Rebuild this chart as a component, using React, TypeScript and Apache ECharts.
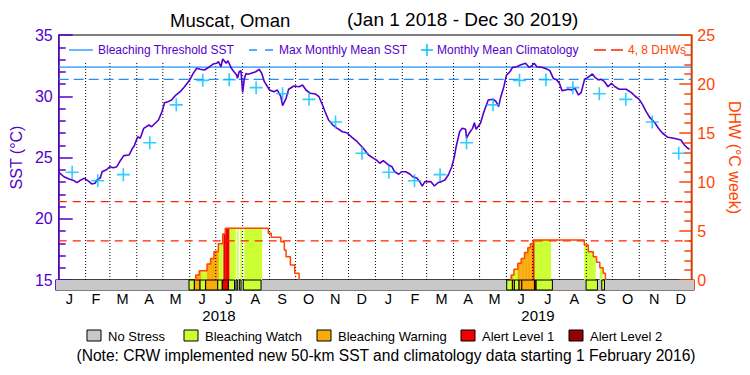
import React, { useEffect, useRef } from 'react';
import * as echarts from 'echarts';

// ---------- data ----------
const TITLE_PLACE = 'Muscat, Oman';
const TITLE_RANGE = '(Jan 1 2018 - Dec 30 2019)';
const YEARS = ['2018', '2019'];
const MONTH_LETTERS = ['J', 'F', 'M', 'A', 'M', 'J', 'J', 'A', 'S', 'O', 'N', 'D'];
const TOTAL_DAYS = 729; // Jan 1 2018 .. Dec 30 2019

// daily SST (°C), day index from Jan 1 2018
const SST_DAYS = [
  0, 6, 12, 18, 21, 24, 29, 31, 35, 38,
  42, 44, 48, 50, 55, 59, 63, 67, 71, 75,
  81, 85, 87, 91, 94, 98, 104, 107, 115, 119,
  122, 126, 130, 135, 140, 145, 151, 155, 159, 163,
  168, 174, 178, 182, 184, 187, 189, 193, 195, 199,
  202, 205, 206, 208, 210, 212, 214, 216, 218, 222,
  227, 231, 234, 237, 243, 248, 252, 256, 258, 262,
  265, 271, 277, 281, 285, 290, 296, 300, 304, 307,
  311, 316, 321, 327, 332, 338, 344, 351, 357, 363,
  366, 370, 374, 380, 384, 387, 392, 395, 400, 405,
  408, 413, 416, 419, 422, 429, 433, 437, 441, 445,
  449, 453, 456, 458, 462, 465, 469, 470, 473, 477,
  479, 481, 486, 490, 495, 501, 504, 507, 509, 513,
  516, 520, 523, 528, 532, 538, 542, 545, 548, 551,
  557, 563, 566, 570, 574, 577, 580, 584, 587, 591,
  595, 599, 602, 606, 610, 615, 618, 622, 625, 629,
  633, 637, 641, 646, 654, 660, 664, 669, 673, 677,
  681, 687, 692, 696, 702, 709, 717, 721, 725, 727,
];
const SST_VALUES = [
  23.8, 23.43, 23.24, 23.1, 22.94, 23.1, 23.3, 23.24, 23.03, 22.84,
  22.9, 23.16, 23.35, 23.84, 24.0, 24.25, 24.17, 24.25, 24.74, 25.15,
  25.2, 25.75, 25.94, 26.7, 26.57, 27.38, 27.65, 27.51, 28.06, 28.74,
  29.47, 29.56, 29.69, 30.1, 30.37, 30.78, 31.33, 31.87, 32.28, 32.2,
  32.14, 32.41, 32.63, 32.69, 32.82, 32.41, 33.04, 32.69, 32.9, 32.28,
  32.0, 31.73, 31.46, 32.0, 32.09, 30.32, 31.46, 31.87, 31.79, 31.87,
  32.0, 32.2, 31.87, 31.19, 30.51, 30.37, 30.51, 29.96, 29.23, 29.83,
  30.57, 30.84, 30.78, 30.92, 30.51, 30.24, 30.18, 29.96, 29.29, 28.74,
  28.06, 27.65, 27.38, 27.1, 27.02, 26.65, 26.29, 25.75, 25.2, 24.93,
  24.8, 24.53, 24.74, 24.39, 24.25, 23.84, 23.63, 23.84, 23.84, 23.63,
  23.43, 23.3, 23.03, 22.67, 23.03, 23.03, 22.67, 22.94, 23.03, 23.16,
  23.57, 24.25, 25.07, 25.88, 27.1, 27.38, 27.3, 26.57, 26.98, 27.38,
  27.84, 27.3, 27.79, 28.74, 29.69, 29.75, 29.56, 29.15, 29.83, 30.78,
  31.73, 32.0, 32.36, 32.41, 32.55, 32.69, 32.36, 32.47, 32.69, 32.41,
  32.36, 32.2, 32.09, 31.46, 31.33, 31.06, 30.46, 30.51, 30.57, 30.51,
  30.65, 30.1, 30.29, 31.38, 31.55, 31.82, 31.55, 31.33, 31.38, 31.19,
  30.78, 31.06, 30.78, 30.57, 30.57, 30.29, 30.02, 29.75, 29.29, 28.74,
  28.28, 27.84, 27.3, 26.98, 26.65, 26.57, 26.43, 26.02, 25.75, 25.67,
];

// monthly mean climatology (Jan..Dec)
const CLIMATOLOGY = [23.8, 23.1, 23.6, 26.2, 29.3, 31.3, 31.35, 30.7, 30.2, 29.75, 27.9, 25.35];
const MAX_MONTHLY_MEAN = 31.38;
const BLEACHING_THRESHOLD = 32.38;
const DHW_REFERENCE = [4, 8];

// DHW step function: value holds from day until next day; 0 closes an event
const DHW_STEP_DAYS = [
  158, 162, 171, 175, 179, 184, 189, 192, 241.5, 245, 256, 260, 262, 267, 272, 277,
  521.5, 524.6, 529.1, 533, 536.8, 540.6, 543.6, 546.7, 605.7, 610.3, 616, 619.8, 623.6, 627.4, 630,
];
const DHW_STEP_VALUES = [
  0.5, 0.95, 1.63, 2.2, 2.9, 3.7, 4.7, 5.27, 4.76, 4.35, 3.9, 3.06, 2.38, 1.53, 0.68, 0,
  0.5, 1.09, 1.7, 2.2, 2.8, 3.3, 3.7, 4.08, 3.57, 2.89, 2.38, 1.81, 1.26, 0.68, 0,
];

// stress level periods (1 watch, 2 warning, 3 alert 1, 4 alert 2)
const STRESS_START = [152, 158.1, 164.6, 171, 184.8, 190, 197, 205.7, 209.5, 214, 515, 521.5, 523.8, 529.1, 532.2, 546.7, 548.6, 605.7, 623.6];
const STRESS_END = [158.1, 164.6, 171, 184.8, 190, 197, 204, 207.2, 211.4, 234.3, 521.5, 523.8, 529.1, 532.2, 546.7, 548.6, 567.2, 618.7, 626.7];
const STRESS_LEVEL = [1, 2, 1, 2, 1, 3, 1, 1, 1, 1, 1, 2, 1, 2, 2, 3, 1, 1, 1];
const STRESS_NAMES = ['No Stress', 'Bleaching Watch', 'Bleaching Warning', 'Alert Level 1', 'Alert Level 2'];

const NOTE = '(Note: CRW implemented new 50-km SST and climatology data starting 1 February 2016)';

// ---------- styles ----------
const FONT = '"Liberation Sans", Arial, sans-serif';
const PURPLE = '#5500CC';
const ORANGE = '#FF4500';
const DHW_DASH = '#FF2200';
const BLUE = '#1E90FF';
const CYAN = '#00BFFF';
const STRESS_COLORS = ['#C8C8C8', '#CCFF33', '#FAAA0A', '#F00000', '#960000'];
const PLUS = 'path://M5.25,0H6.75V5.25H12V6.75H6.75V12H5.25V6.75H0V5.25H5.25Z';

const DAY_MS = 86400000;
const T0 = Date.UTC(2018, 0, 1);
const monthStart = (y: number, m: number) => (Date.UTC(y, m, 1) - T0) / DAY_MS;

function buildOption() {
  const monthBoundaries: number[][] = [];
  const climPoints: number[][] = [];
  const monthAxis: string[] = [];
  [2018, 2019].forEach((y) => {
    for (let m = 0; m < 12; m++) {
      const s = monthStart(y, m);
      const e = monthStart(y, m + 1);
      if (s > 0) monthBoundaries.push([s]);
      climPoints.push([(s + e) / 2, CLIMATOLOGY[m]]);
      monthAxis.push(MONTH_LETTERS[m]);
    }
  });

  // DHW outline per event, and intervals
  const dhwEvents: number[][][] = [];
  const dhwIntervals: number[][] = [];
  let cur: number[][] | null = null;
  for (let i = 0; i < DHW_STEP_DAYS.length; i++) {
    const d = DHW_STEP_DAYS[i];
    const v = DHW_STEP_VALUES[i];
    if (!cur) {
      cur = [[d, 0]];
    }
    cur.push([d, v]);
    if (v > 0) dhwIntervals.push([d, DHW_STEP_DAYS[i + 1], v]);
    if (v === 0) {
      dhwEvents.push(cur);
      cur = null;
    }
  }

  const fillPieces: number[][] = [];
  STRESS_START.forEach((s, k) => {
    const e = STRESS_END[k];
    dhwIntervals.forEach(([a, b, v]) => {
      const lo = Math.max(s, a);
      const hi = Math.min(e, b);
      if (hi > lo) fillPieces.push([lo, hi, v, STRESS_LEVEL[k]]);
    });
  });
  const bandPieces: number[][] = STRESS_START.map((s, k) => [s, STRESS_END[k], STRESS_LEVEL[k]]);

  const sstData = SST_DAYS.map((d, i) => [d, SST_VALUES[i]]);

  const axisText = { fontFamily: FONT, fontSize: 16 };

  const dhwOutlineSeries = dhwEvents.map((ev) => ({
    type: 'line',
    xAxisIndex: 0,
    yAxisIndex: 1,
    data: ev,
    step: 'end',
    symbol: 'none',
    silent: true,
    z: 5,
    lineStyle: { color: ORANGE, width: 1.5 },
  }));

  const legendY = 50;
  const lf = 12;
  const topLegend: any[] = [
    { type: 'line', shape: { x1: 69, y1: legendY, x2: 93, y2: legendY }, style: { stroke: BLUE, lineWidth: 1.3 } },
    { type: 'text', style: { text: 'Bleaching Threshold SST', x: 98, y: legendY, verticalAlign: 'middle', fill: PURPLE, fontSize: lf, fontFamily: FONT } },
    { type: 'line', shape: { x1: 249, y1: legendY, x2: 273, y2: legendY }, style: { stroke: BLUE, lineWidth: 1.3, lineDash: [8, 8] } },
    { type: 'text', style: { text: 'Max Monthly Mean SST', x: 279, y: legendY, verticalAlign: 'middle', fill: PURPLE, fontSize: lf, fontFamily: FONT } },
    { type: 'line', shape: { x1: 421, y1: legendY, x2: 433, y2: legendY }, style: { stroke: CYAN, lineWidth: 1.5 } },
    { type: 'line', shape: { x1: 427, y1: legendY - 6, x2: 427, y2: legendY + 6 }, style: { stroke: CYAN, lineWidth: 1.5 } },
    { type: 'text', style: { text: 'Monthly Mean Climatology', x: 437, y: legendY, verticalAlign: 'middle', fill: PURPLE, fontSize: lf, fontFamily: FONT } },
    { type: 'line', shape: { x1: 594, y1: legendY, x2: 623, y2: legendY }, style: { stroke: DHW_DASH, lineWidth: 1.3, lineDash: [12, 5] } },
    { type: 'text', style: { text: '4, 8 DHWs', x: 628, y: legendY, verticalAlign: 'middle', fill: ORANGE, fontSize: lf, fontFamily: FONT } },
  ];

  const boxX = [87, 184, 317, 461, 569];
  const bottomLegend: any[] = [];
  STRESS_NAMES.forEach((name, i) => {
    bottomLegend.push({ type: 'rect', shape: { x: boxX[i], y: 330, width: 14, height: 11 }, style: { fill: STRESS_COLORS[i], stroke: '#000', lineWidth: 1 } });
    bottomLegend.push({ type: 'text', style: { text: name, x: boxX[i] + 21, y: 336, verticalAlign: 'middle', fill: '#000', fontSize: 13, fontFamily: FONT } });
  });
  bottomLegend.push({ type: 'text', style: { text: NOTE, x: 386, y: 355, align: 'center', verticalAlign: 'middle', fill: '#000', fontSize: 15.6, fontFamily: FONT } });

  return {
    animation: false,
    backgroundColor: '#fff',
    title: [
      { text: TITLE_PLACE, left: 170, top: 11, padding: 0, textStyle: { fontFamily: FONT, fontSize: 18.5, fontWeight: 'normal', color: '#000' } },
      { text: TITLE_RANGE, left: 347, top: 10, padding: 0, textStyle: { fontFamily: FONT, fontSize: 19, fontWeight: 'normal', color: '#000' } },
    ],
    grid: [
      { left: 56, right: 56, top: 35, height: 245, show: true, borderColor: '#000', borderWidth: 1, backgroundColor: 'transparent' },
      { left: 56, right: 56, top: 280, height: 10, show: true, borderColor: '#000', borderWidth: 1, backgroundColor: 'transparent' },
    ],
    xAxis: [
      { type: 'value', gridIndex: 0, min: 0, max: TOTAL_DAYS, show: false },
      { type: 'value', gridIndex: 1, min: 0, max: TOTAL_DAYS, show: false },
      {
        type: 'category', gridIndex: 1, position: 'bottom', data: monthAxis, boundaryGap: true,
        axisLine: { show: false }, axisTick: { show: false }, splitLine: { show: false },
        axisLabel: { interval: 0, margin: 2, lineHeight: 14, color: '#000', fontFamily: FONT, fontSize: 14.5 },
      },
      {
        type: 'category', gridIndex: 1, position: 'bottom', offset: 17, data: YEARS, boundaryGap: true,
        axisLine: { show: false }, axisTick: { show: false }, splitLine: { show: false },
        axisLabel: { interval: 0, margin: 1, lineHeight: 14, padding: [0, 0, 0, 7], color: '#000', fontFamily: FONT, fontSize: 15 },
      },
    ],
    yAxis: [
      {
        type: 'value', gridIndex: 0, position: 'left', min: 15, max: 35, interval: 5,
        name: 'SST (°C)', nameLocation: 'middle', nameGap: 31, nameRotate: 90,
        nameTextStyle: { color: PURPLE, ...axisText },
        axisLine: { show: true, lineStyle: { color: PURPLE, width: 1.5 } },
        axisTick: { show: true, inside: true, length: 14, lineStyle: { color: PURPLE, width: 1.5 } },
        minorTick: { show: true, splitNumber: 5, length: 7, lineStyle: { color: PURPLE, width: 1.5 } },
        axisLabel: { color: PURPLE, margin: 6, ...axisText },
        splitLine: { show: false },
      },
      {
        type: 'value', gridIndex: 0, position: 'right', min: 0, max: 25, interval: 5,
        name: 'DHW (°C week)', nameLocation: 'middle', nameGap: 30, nameRotate: -90,
        nameTextStyle: { color: ORANGE, ...axisText },
        axisLine: { show: true, lineStyle: { color: ORANGE, width: 1.5 } },
        axisTick: { show: true, inside: true, length: 12, lineStyle: { color: ORANGE, width: 1.5 } },
        minorTick: { show: true, splitNumber: 5, length: 7, lineStyle: { color: ORANGE, width: 1.5 } },
        axisLabel: { color: ORANGE, margin: 6, ...axisText },
        splitLine: { show: false },
      },
      {
        type: 'value', gridIndex: 1, position: 'left', min: 0, max: 1,
        axisLine: { show: true, lineStyle: { color: PURPLE, width: 1.5 } },
        axisTick: { show: false }, axisLabel: { show: false }, splitLine: { show: false },
      },
      {
        type: 'value', gridIndex: 1, position: 'right', min: 0, max: 1,
        axisLine: { show: true, lineStyle: { color: ORANGE, width: 1.5 } },
        axisTick: { show: false }, axisLabel: { show: false }, splitLine: { show: false },
      },
    ],
    graphic: [...topLegend, ...bottomLegend],
    series: [
      {
        type: 'custom', name: 'stress fill', xAxisIndex: 0, yAxisIndex: 1, silent: true, z: 1,
        data: fillPieces, encode: { x: [0, 1], y: 2 },
        renderItem: (params: any, api: any) => {
          const lvl = api.value(3);
          const p0 = api.coord([api.value(0), 0]);
          const p1 = api.coord([api.value(1), api.value(2)]);
          return {
            type: 'rect',
            shape: { x: p0[0], y: p1[1], width: p1[0] - p0[0], height: p0[1] - p1[1] },
            style: { fill: STRESS_COLORS[lvl], stroke: STRESS_COLORS[lvl], lineWidth: 0.3 },
          };
        },
      },
      {
        type: 'custom', name: 'no stress band', xAxisIndex: 1, yAxisIndex: 2, silent: true, z: 1,
        data: [[0, TOTAL_DAYS, 0]], encode: { x: [0, 1] },
        renderItem: (params: any, api: any) => {
          const p0 = api.coord([api.value(0), 0]);
          const p1 = api.coord([api.value(1), 1]);
          return { type: 'rect', shape: { x: p0[0], y: p1[1], width: p1[0] - p0[0], height: p0[1] - p1[1] }, style: { fill: STRESS_COLORS[0] } };
        },
      },
      {
        type: 'custom', name: 'stress band', xAxisIndex: 1, yAxisIndex: 2, silent: true, z: 2,
        data: bandPieces, encode: { x: [0, 1] },
        renderItem: (params: any, api: any) => {
          const lvl = api.value(2);
          const p0 = api.coord([api.value(0), 0]);
          const p1 = api.coord([api.value(1), 1]);
          return { type: 'rect', shape: { x: p0[0], y: p1[1], width: p1[0] - p0[0], height: p0[1] - p1[1] }, style: { fill: STRESS_COLORS[lvl], stroke: '#000', lineWidth: 1 } };
        },
      },
      {
        type: 'custom', name: 'month lines', xAxisIndex: 0, yAxisIndex: 0, silent: true, z: 2,
        data: monthBoundaries, encode: { x: 0 },
        renderItem: (params: any, api: any) => {
          const a = api.coord([api.value(0), 15]);
          const b = api.coord([api.value(0), 32.75]);
          return { type: 'line', shape: { x1: a[0], y1: a[1], x2: b[0], y2: b[1] }, style: { stroke: '#000', lineWidth: 1, lineDash: [1, 2] } };
        },
      },
      ...DHW_REFERENCE.map((v) => ({
        type: 'line', xAxisIndex: 0, yAxisIndex: 1, silent: true, symbol: 'none', z: 3,
        data: [[0, v], [TOTAL_DAYS, v]],
        lineStyle: { color: DHW_DASH, width: 1.3, type: [8, 6] },
      })),
      {
        type: 'line', name: 'Max Monthly Mean SST', xAxisIndex: 0, yAxisIndex: 0, silent: true, symbol: 'none', z: 3,
        data: [[0, MAX_MONTHLY_MEAN], [TOTAL_DAYS, MAX_MONTHLY_MEAN]],
        lineStyle: { color: BLUE, width: 1.3, type: [10, 5] },
      },
      {
        type: 'line', name: 'Bleaching Threshold SST', xAxisIndex: 0, yAxisIndex: 0, silent: true, symbol: 'none', z: 3,
        data: [[0, BLEACHING_THRESHOLD], [TOTAL_DAYS, BLEACHING_THRESHOLD]],
        lineStyle: { color: BLUE, width: 1.3 },
      },
      ...dhwOutlineSeries,
      {
        type: 'line', name: 'SST', xAxisIndex: 0, yAxisIndex: 0, silent: true, symbol: 'none', z: 6,
        data: sstData,
        lineStyle: { color: PURPLE, width: 1.6 },
      },
      {
        type: 'scatter', name: 'Monthly Mean Climatology', xAxisIndex: 0, yAxisIndex: 0, silent: true, z: 7,
        data: climPoints, symbol: PLUS, symbolSize: 13,
        itemStyle: { color: CYAN },
      },
    ],
  };
}

export default function App() {
  const ref = useRef<HTMLDivElement>(null);
  useEffect(() => {
    if (!ref.current) return;
    const chart = echarts.init(ref.current, null, { renderer: 'svg' });
    chart.setOption(buildOption() as any);
    return () => chart.dispose();
  }, []);
  return (
    <div
      ref={ref}
      style={{ position: 'fixed', left: 0, top: 0, width: 750, height: 375, background: '#fff' }}
    />
  );
}
